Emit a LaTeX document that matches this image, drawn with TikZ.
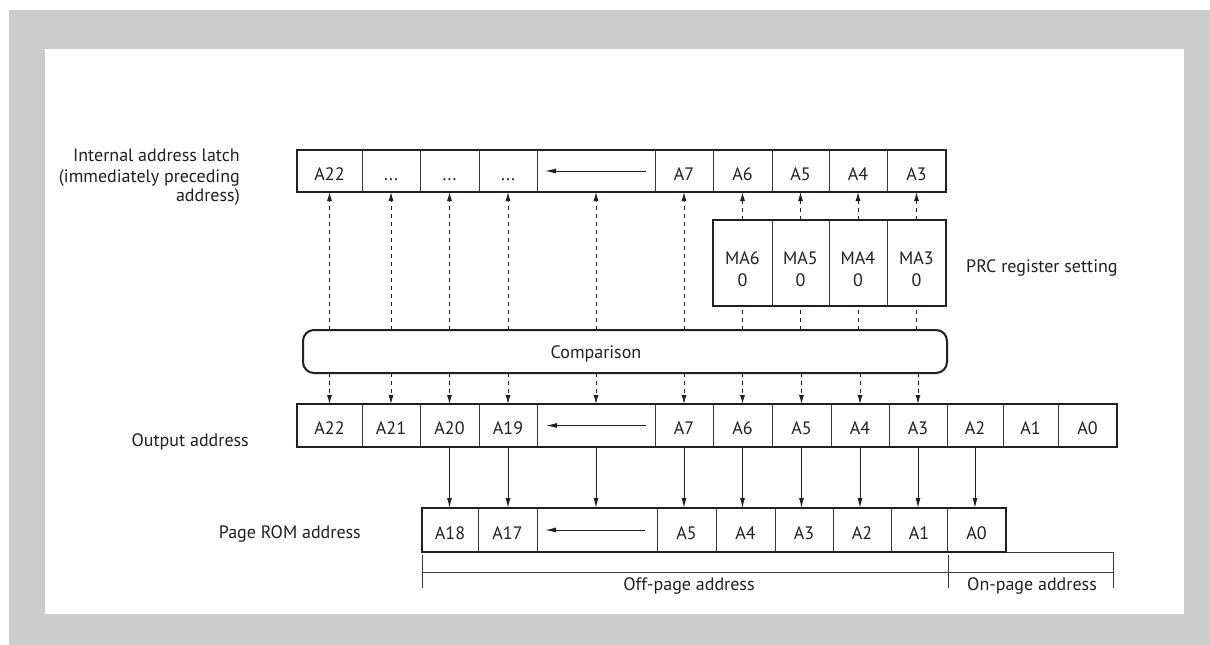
\documentclass[tikz,border=0pt]{standalone}
\usepackage{fontspec}
\setmainfont{PT Sans}
\usetikzlibrary{arrows.meta}
\definecolor{framegray}{HTML}{CCCCCC}
\definecolor{ink}{HTML}{231F20}
\definecolor{thinink}{HTML}{3A3A3A}
\newcommand\celldots{...}
\tikzset{
  cellbox/.style={draw=thinink, line width=1pt, inner sep=0pt, outer sep=0pt,
    text height=18pt, text depth=0pt, font=\fontsize{18}{22}\selectfont, text=ink},
  outerbox/.style={draw=ink, line width=2.2pt},
  cmpbox/.style={draw=ink, line width=2pt, rounded corners=11pt, inner sep=0pt, outer sep=0pt},
  lbl/.style={font=\fontsize{18}{22}\selectfont, text=ink, inner sep=0pt},
  dasharrow/.style={draw=ink, line width=1pt, dash pattern=on 4pt off 4pt, -{Latex[length=9pt,width=5pt]}},
  dashline/.style={draw=ink, line width=1pt, dash pattern=on 4pt off 4pt},
  solarrow/.style={draw=ink, line width=1pt, -{Latex[length=10pt,width=5pt]}},
  leftarrow/.style={draw=ink, line width=1pt, -{Latex[length=11pt,width=5pt]}},
  bracket/.style={draw=thinink, line width=1pt},
}
\begin{document}
\begin{tikzpicture}[x=1pt,y=-1pt]
\useasboundingbox (0,0) rectangle (1210,645);
\fill[framegray] (9,10) rectangle (1210,645);
\fill[white] (45,49) rectangle (1184,614);

% Internal address latch row
\foreach \n/\a/\b/\t in {L1/297/362/A22, L2/362/420/\celldots, L3/420/479/\celldots, L4/479/537/\celldots,
  L5/537/655/{}, L6/655/713/A7, L7/713/772/A6, L8/772/829/A5, L9/829/887/A4, L10/887/946/A3}
  \node[cellbox, minimum width={(\b-\a)*1pt}, minimum height=42pt] (\n) at ({(\a+\b)/2},171) {\t};
\draw[outerbox] (L1.north west) rectangle (L10.south east);
\draw[leftarrow] ([xshift=-9pt]L5.east) -- ([xshift=8pt]L5.west);

% PRC register setting
\foreach \n/\a/\b/\t in {P7/713/772/MA6, P8/772/829/MA5, P9/829/887/MA4, P10/887/946/MA3}{
  \node[cellbox, text height=12pt, text depth=10pt, minimum width={(\b-\a)*1pt}, minimum height=86pt] (\n) at ({(\a+\b)/2},263) {\t};
  \node[lbl, anchor=base] (\n z) at ({(\a+\b)/2},286) {0};
}
\draw[outerbox] (P7.north west) rectangle (P10.south east);

% Comparison
\node[cmpbox, minimum width=644pt, minimum height=43pt] (cmp) at (625,351.5) {};
\node[lbl, anchor=base] (cmptext) at (596,358) {Comparison};

% Output address row
\foreach \n/\a/\b/\t in {O1/297/362/A22, O2/362/420/A21, O3/420/479/A20, O4/479/537/A19,
  O5/537/655/{}, O6/655/713/A7, O7/713/772/A6, O8/772/831/A5, O9/831/889/A4, O10/889/947/A3,
  O11/947/1003/A2, O12/1003/1058/A1, O13/1058/1117/A0}
  \node[cellbox, minimum width={(\b-\a)*1pt}, minimum height=43pt] (\n) at ({(\a+\b)/2},425.5) {\t};
\draw[outerbox] (O1.north west) rectangle (O13.south east);
\draw[leftarrow] ([xshift=-9pt]O5.east) -- ([xshift=9pt]O5.west);

% Page ROM address row
\foreach \n/\a/\b/\t in {R1/422/478/A18, R2/478/537/A17, R3/537/657/{}, R4/657/716/A5,
  R5/716/775/A4, R6/775/833/A3, R7/833/891/A2, R8/891/947/A1, R9/947/1006/A0}
  \node[cellbox, minimum width={(\b-\a)*1pt}, minimum height=44pt] (\n) at ({(\a+\b)/2},530) {\t};
\draw[outerbox] (R1.north west) rectangle (R9.south east);
\draw[leftarrow] ([xshift=-12pt]R3.east) -- ([xshift=8pt]R3.west);

% dashed arrows: comparison -> latch
\foreach \k in {L1,L2,L3,L4,L5,L6}
  \draw[dasharrow] (cmp.north -| \k.south) -- (\k.south);
\foreach \k in {7,8,9,10}{
  \draw[dashline] (cmp.north -| P\k.south) -- (P\k.south);
  \draw[dasharrow] (P\k.north) -- (L\k.south);
}
% dashed arrows: comparison -> output
\foreach \k in {O1,O2,O3,O4,O5,O6,O7,O8,O9,O10}
  \draw[dasharrow] (cmp.south -| \k.north) -- (\k.north);
% solid arrows: output -> page ROM
\foreach \o/\r in {O3/R1,O4/R2,O5/R3,O6/R4,O7/R5,O8/R6,O9/R7,O10/R8,O11/R9}
  \draw[solarrow] (\o.south) -- (\o.south |- \r.north);

% brackets
\coordinate (offA) at (422,555);
\coordinate (offB) at (422,588);
\coordinate (midA) at (948,555);
\coordinate (midB) at (948,588);
\coordinate (onA) at (1007,552);
\coordinate (onC) at (1113,552);
\coordinate (onB) at (1113,588);
\draw[bracket] (offA) -- (offB);
\draw[bracket] (midA) -- (midB);
\draw[bracket] (offA |- 0,572) -- (onB |- 0,572);
\draw[bracket] (onA) -- (onC) -- (onB);
\node[lbl, anchor=base] (offlbl) at (689,590) {Off-page address};
\node[lbl, anchor=base] (onlbl) at (1032,590) {On-page address};

% side labels
\node[lbl, anchor=base east] (latchA) at (240,161) {Internal address latch};
\node[lbl, anchor=base east] (latchB) at (240,182) {(immediately preceding};
\node[lbl, anchor=base east] (latchC) at (240,201) {address)};
\node[lbl, anchor=base west] (prclbl) at (966,272.5) {PRC register setting};
\node[lbl, anchor=base east] (outlbl) at (249,446) {Output address};
\node[lbl, anchor=base east] (romlbl) at (361,538) {Page ROM address};
\end{tikzpicture}
\end{document}
